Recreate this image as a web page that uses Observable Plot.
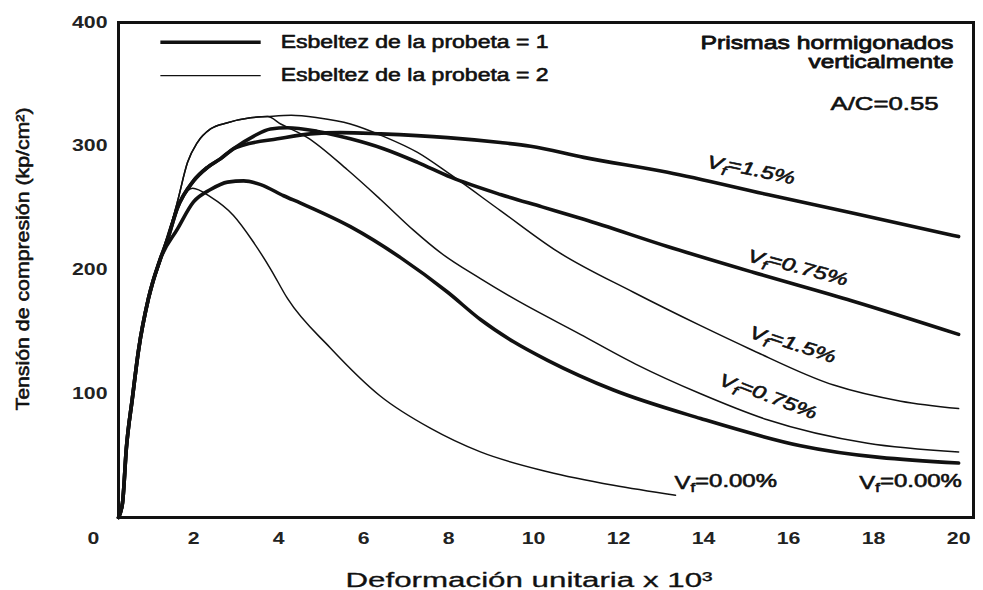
<!DOCTYPE html>
<html><head><meta charset="utf-8">
<script src="https://cdn.jsdelivr.net/npm/d3@7"></script>
<script src="https://cdn.jsdelivr.net/npm/@observablehq/plot@0.6"></script>
<style>body{margin:0;background:#fff;} svg{display:block}</style>
</head><body><div id="chart"></div>
<script>
// Tick labels
const xTicks = [0, 2, 4, 6, 8, 10, 12, 14, 16, 18, 20];
const yTicks = [100, 200, 300, 400];

// Series: [strain x10^3, stress kp/cm2]
// Esbeltez = 1 (thick)
const e1_vf150 = [[0.235,0],[0.33,12],[0.42,56],[0.56,96],[0.71,136],[0.94,177],[1.22,209],[1.4,226],[1.62,250],[2.0,272],[2.33,283],[2.64,290],[2.94,298],[3.18,301],[3.98,306],[4.75,310],[5.46,311],[6.4,310],[7.98,307],[9.22,303],[9.93,300],[11.18,291],[13.15,279],[15.5,261],[17.5,246],[20,227]];
const e1_vf075 = [[0.235,0],[0.33,12],[0.42,56],[0.56,96],[0.71,136],[0.94,177],[1.22,209],[1.4,226],[1.62,250],[2.0,272],[2.33,283],[2.64,290],[2.94,298],[3.41,308],[3.81,314],[4.21,315],[4.92,312],[5.69,306],[6.47,298],[7.27,287],[8.05,275],[9.22,261],[10.2,251],[11.18,241],[13.15,219],[15.18,198],[17.5,175],[20,148]];
const e1_vf000 = [[0.235,0],[0.33,12],[0.42,56],[0.56,96],[0.71,136],[0.94,177],[1.22,209],[1.62,233],[2.0,255],[2.4,265],[2.8,271],[3.18,272],[3.58,269],[4.12,260],[4.52,254],[5.69,235],[6.87,210],[7.98,182],[8.75,160],[9.53,142],[10.33,127],[11.88,103],[13.93,80],[16.28,58],[20,44]];
// Esbeltez = 2 (thin)
const e2_vf150 = [[0.235,0],[0.33,12],[0.42,56],[0.56,96],[0.71,136],[0.94,177],[1.22,209],[1.41,229],[1.62,255],[1.86,287],[2.09,303],[2.4,314],[2.8,319],[3.34,323],[3.74,324],[4.3,325],[4.92,323],[5.69,318],[6.47,308],[7.27,295],[8.05,277],[9.22,248],[10.56,215],[12.35,182],[13.93,155],[15.1,136],[17.06,107],[18.64,94],[20,88]];
const e2_vf075 = [[0.235,0],[0.33,12],[0.42,56],[0.56,96],[0.71,136],[0.94,177],[1.22,209],[1.41,229],[1.62,255],[1.86,287],[2.09,303],[2.4,314],[2.8,319],[3.34,323],[3.74,324],[4.05,318],[4.68,307],[5.62,281],[6.4,257],[7.18,232],[7.81,214],[8.75,193],[9.53,177],[11.1,148],[12.4,124],[13.93,100],[15.5,79],[17.86,60],[20,53]];
const e2_vf000 = [[0.235,0],[0.33,12],[0.42,56],[0.56,96],[0.71,136],[0.94,177],[1.22,209],[1.5,240],[1.98,266],[2.4,259],[2.94,244],[3.4,223],[3.81,201],[4.21,177],[5.22,137],[6.4,98],[7.58,72],[8.75,53],[10.33,37],[11.88,26],[13.34,18]];

const legendLabels = ["Esbeltez de la probeta = 1", "Esbeltez de la probeta = 2"];
const notes = ["Prismas hormigonados", "verticalmente", "A/C=0.55"];
const xTitle = "Deformación unitaria x 10³";
const yTitle = "Tensión de compresión (kp/cm²)";
// curve labels: text, anchor (strain, stress)
const curveLabelText = ["Vf=1.5%", "Vf=0.75%", "Vf=1.5%", "Vf=0.75%", "Vf=0.00%", "Vf=0.00%"];
const curveLabelX = [15.11, 16.21, 16.09, 15.51, 14.52, 18.87];
const curveLabelY = [280, 201, 139, 97, 28, 28];
const curveLabelAngle = [12, 15, 18, 21, 0, 0];
const curveLabels = curveLabelText.map((t, i) => ({t, x: curveLabelX[i], y: curveLabelY[i], r: curveLabelAngle[i]}));

const toRows = (arr, name) => arr.map(([x, y]) => ({x, y, series: name}));
const thick = [...toRows(e1_vf150, "e1_150"), ...toRows(e1_vf075, "e1_075"), ...toRows(e1_vf000, "e1_000")];
const thin = [...toRows(e2_vf150, "e2_150"), ...toRows(e2_vf075, "e2_075"), ...toRows(e2_vf000, "e2_000")];

const font = "'Liberation Sans', Arial, sans-serif";
const ink = {fill: "#111", stroke: "#111", strokeWidth: 0.6};
const chart = Plot.plot({
  width: 983, height: 590,
  marginLeft: 118, marginRight: 10, marginTop: 22, marginBottom: 73,
  x: {domain: [0.235, 20.35], axis: null},
  y: {domain: [0, 400], axis: null},
  style: {fontFamily: font, background: "#fff", color: "#111"},
  marks: [
    Plot.line(thin, {x: "x", y: "y", z: "series", stroke: "#111", strokeWidth: 1.5, curve: "monotone-x"}),
    Plot.line(thick, {x: "x", y: "y", z: "series", stroke: "#111", strokeWidth: 3.6, curve: "monotone-x"}),
    Plot.frame({stroke: "#111", strokeWidth: 3}),
    // x tick labels
    Plot.text(xTicks.filter(d => d > 0), {x: d => d, frameAnchor: "bottom", dy: 21, lineAnchor: "middle", fontSize: 16, fontWeight: "bold", fill: "#222"}),
    Plot.text(xTicks.filter(d => d === 0), {x: d => d, frameAnchor: "bottom", dy: 21, dx: -15, lineAnchor: "middle", fontSize: 16, fontWeight: "bold", fill: "#222"}),
    // y tick labels
    Plot.text(yTicks, {y: d => d, frameAnchor: "left", dx: -11, textAnchor: "end", lineAnchor: "middle", fontSize: 16, fontWeight: "bold", fill: "#222"}),
    // axis titles
    Plot.text([xTitle], {frameAnchor: "bottom", dy: 63, dx: -17, textAnchor: "middle", lineAnchor: "middle", fontSize: 20, ...ink, strokeWidth: 0.3}),
    Plot.text([yTitle], {frameAnchor: "left", dx: -96, dy: -11, rotate: -90, textAnchor: "middle", lineAnchor: "middle", fontSize: 19, ...ink}),
    // legend
    Plot.link([0], {x1: 1.22, x2: 3.58, y1: 384, y2: 384, stroke: "#111", strokeWidth: 3.6}),
    Plot.link([0], {x1: 1.22, x2: 3.58, y1: 357, y2: 357, stroke: "#111", strokeWidth: 1.3}),
    Plot.text(legendLabels, {x: 4.05, y: (d, i) => i === 0 ? 384 : 357, textAnchor: "start", lineAnchor: "middle", fontSize: 18, ...ink}),
    // annotations
    Plot.text([notes[0]], {frameAnchor: "top-right", dx: -20, dy: 20, textAnchor: "end", lineAnchor: "middle", fontSize: 19, ...ink, strokeWidth: 0.8}),
    Plot.text([notes[1]], {frameAnchor: "top-right", dx: -20, dy: 39, textAnchor: "end", lineAnchor: "middle", fontSize: 19, ...ink, strokeWidth: 0.8}),
    Plot.text([notes[2]], {frameAnchor: "top-right", dx: -35, dy: 81, textAnchor: "end", lineAnchor: "middle", fontSize: 19, ...ink}),
    // curve labels
    Plot.text(curveLabels.filter(d => d.r !== 0), {x: "x", y: "y", text: "t", rotate: "r", lineAnchor: "middle", fontSize: 18, fontStyle: "italic", ...ink}),
    Plot.text(curveLabels.filter(d => d.r === 0), {x: "x", y: "y", text: "t", lineAnchor: "middle", fontSize: 18, ...ink})
  ]
});
document.getElementById("chart").appendChild(chart);

// subscript f
const ns = "http://www.w3.org/2000/svg";
chart.querySelectorAll("text").forEach(t => {
  const s = t.textContent;
  if (/^Vf=/.test(s) && t.children.length === 0) {
    t.textContent = "";
    t.appendChild(document.createTextNode("V"));
    const sub = document.createElementNS(ns, "tspan");
    sub.setAttribute("dy", "0.3em"); sub.setAttribute("font-size", "70%");
    sub.textContent = "f";
    t.appendChild(sub);
    const rest = document.createElementNS(ns, "tspan");
    rest.setAttribute("dy", "-0.3em");
    rest.textContent = s.slice(2);
    t.appendChild(rest);
  }
});

// the reference typesetting is wider than these fonts: widen text to the reference widths
const widths = new Map([
  [legendLabels[0], 268], [legendLabels[1], 268],
  [notes[0], 253], [notes[1], 145], [notes[2], 108],
  [xTitle, 367], [yTitle, 303]
]);
chart.querySelectorAll("text").forEach(t => {
  const s = t.textContent;
  const w = t.getComputedTextLength();
  if (!w) return;
  const target = widths.has(s) ? widths.get(s) : w * 1.33;
  t.setAttribute("textLength", target.toFixed(1));
  t.setAttribute("lengthAdjust", "spacingAndGlyphs");
});
</script>
</body></html>
